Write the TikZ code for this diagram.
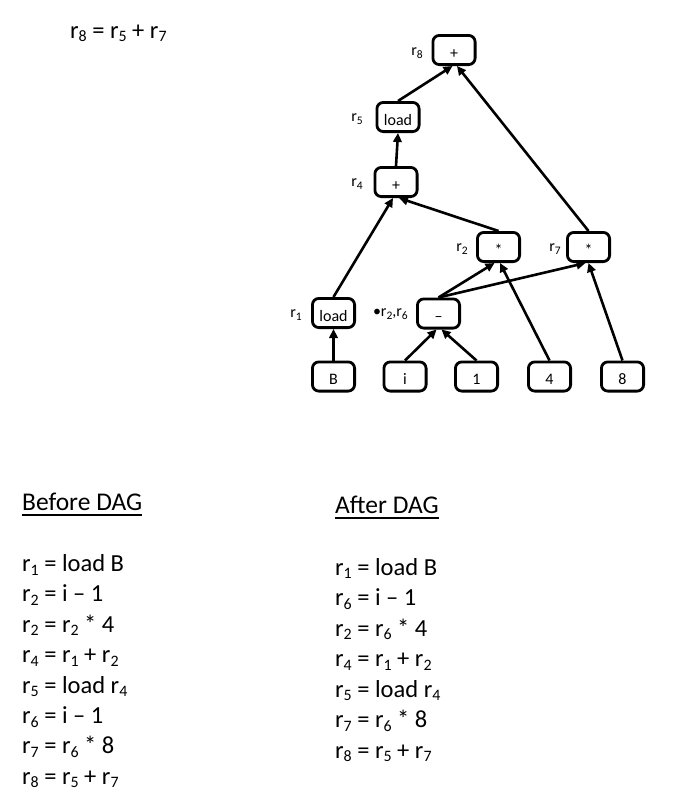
\documentclass[tikz,border=0pt]{standalone}
\usepackage{fontspec}
\setmainfont{Carlito}
\usepackage{graphicx}
\usetikzlibrary{arrows.meta,calc}
\newcommand\rr[1]{r\raisebox{-0.15em}{\scalebox{0.65}{#1}}}
\newcommand\rl[1]{r\raisebox{-0.22em}{\scalebox{0.72}{#1}}}
\begin{document}
\begin{tikzpicture}[x=1pt,y=-1pt,
  opbox/.style={draw, line width=2.8pt, rounded corners=6.5pt,
    minimum width=42.2pt, minimum height=29.2pt, inner sep=0pt,
    text height=16pt, text depth=0pt, font=\fontsize{16}{19}\selectfont},
  reglabel/.style={anchor=base east, inner sep=0pt, font=\fontsize{16}{19}\selectfont},
  edge/.style={line width=2.6pt, -{Triangle[length=9pt,width=8.5pt]}},
  codeline/.style={anchor=base west, inner sep=0pt, font=\fontsize{24.5}{29}\selectfont},
  titleline/.style={anchor=base west, inner sep=0pt, font=\fontsize{25.5}{29}\selectfont},
  uline/.style={line width=1.5pt}]
\useasboundingbox (0,0) rectangle (685,798);

% top formula
\node[codeline] (top) at (70,38) {\rr{8} = \rr{5} + \rr{7}};

% DAG nodes
\node[opbox] (n8) at (454,50) {+};
\node[opbox] (n5) at (398,117) {load};
\node[opbox] (n4) at (396,182) {+};
\node[opbox] (n2) at (498.5,247) {*};
\node[opbox] (n7) at (588.5,247) {*};
\node[opbox] (n1) at (333.5,313) {load};
\node[opbox] (nm) at (438.5,313.5) {–};
\node[opbox] (nB) at (333.5,376.5) {B};
\node[opbox] (ni) at (405,376.5) {i};
\node[opbox] (none) at (476.5,376.5) {1};
\node[opbox] (nfour) at (549.5,376.5) {4};
\node[opbox] (neight) at (622.5,376.5) {8};

% register labels
\node[reglabel] (l8) at (423,55) {\rl{8}};
\node[reglabel] (l5) at (363,121) {\rl{5}};
\node[reglabel] (l4) at (363,186) {\rl{4}};
\node[reglabel] (l2) at (468,251) {\rl{2}};
\node[reglabel] (l7) at (561,251) {\rl{7}};
\node[reglabel] (l1) at (302,317) {\rl{1}};
\node[reglabel] (l26) at (408,316) {•\rl{2},\rl{6}};

% edges
\draw[edge] (n5.north) -- ([xshift=-1.5pt]n8.south);
\draw[edge] (n7.north) -- ([xshift=3pt]n8.south);
\draw[edge] (n4.north) -- (n5.south);
\draw[edge] (n1.north) -- ([xshift=-3pt]n4.south);
\draw[edge] (n2.north) -- ([xshift=3pt]n4.south);
\draw[edge] (nm.north) -- ([xshift=-4pt]n2.south);
\draw[edge] (nm.north) -- ([xshift=-3pt]n7.south);
\draw[edge] (nfour.north) -- ([xshift=1.5pt]n2.south);
\draw[edge] (neight.north) -- (n7.south);
\draw[edge] (ni.north) -- ([xshift=-2pt]nm.south);
\draw[edge] (none.north) -- ([xshift=3pt]nm.south);
\draw[edge] (nB.north) -- (n1.south);

% Before DAG
\node[titleline] (bt) at (22,510) {Before DAG};
\draw[uline] ($(bt.base west)+(0,5)$) -- ($(bt.base east)+(0,5)$);
\node[codeline] (b1) at (22,571.5) {\rr{1} = load B};
\node[codeline] (b2) at (22,601.9) {\rr{2} = i – 1};
\node[codeline] (b3) at (22,632.3) {\rr{2} = \rr{2} * 4};
\node[codeline] (b4) at (22,662.7) {\rr{4} = \rr{1} + \rr{2}};
\node[codeline] (b5) at (22,693.1) {\rr{5} = load \rr{4}};
\node[codeline] (b6) at (22,723.5) {\rr{6} = i – 1};
\node[codeline] (b7) at (22,753.9) {\rr{7} = \rr{6} * 8};
\node[codeline] (b8) at (22,784.3) {\rr{8} = \rr{5} + \rr{7}};

% After DAG
\node[titleline] (at) at (335,513) {After DAG};
\draw[uline] ($(at.base west)+(0,5)$) -- ($(at.base east)+(0,5)$);
\node[codeline] (a1) at (335,575) {\rr{1} = load B};
\node[codeline] (a2) at (335,605.5) {\rr{6} = i – 1};
\node[codeline] (a3) at (335,636) {\rr{2} = \rr{6} * 4};
\node[codeline] (a4) at (335,666.5) {\rr{4} = \rr{1} + \rr{2}};
\node[codeline] (a5) at (335,697) {\rr{5} = load \rr{4}};
\node[codeline] (a6) at (335,727.5) {\rr{7} = \rr{6} * 8};
\node[codeline] (a7) at (335,758) {\rr{8} = \rr{5} + \rr{7}};
\end{tikzpicture}
\end{document}
